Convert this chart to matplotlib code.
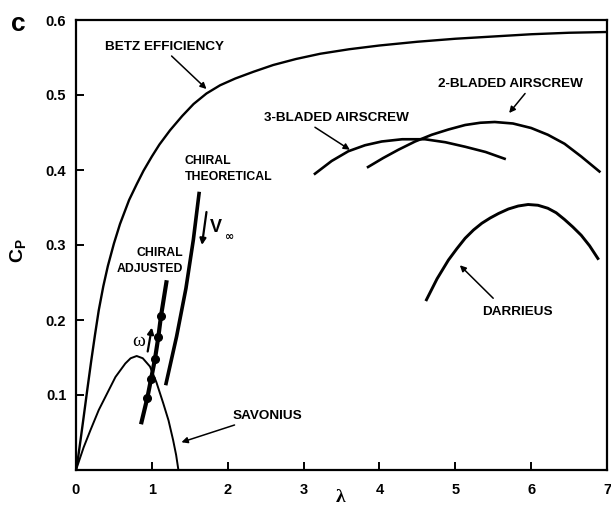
import matplotlib
matplotlib.use('Agg')
import matplotlib.pyplot as plt

plt.rcParams['font.family'] = ['Liberation Sans', 'DejaVu Sans']
plt.rcParams['mathtext.fontset'] = 'custom'
plt.rcParams['mathtext.rm'] = 'Liberation Sans'
plt.rcParams['mathtext.bf'] = 'Liberation Sans:bold'
plt.rcParams['mathtext.it'] = 'Liberation Sans:italic'

# ---------------- data ----------------
betz_lam = [0, 0.02, 0.06, 0.1, 0.15, 0.2, 0.25, 0.3, 0.36, 0.42, 0.5, 0.58, 0.7, 0.8,
            0.89, 1.0, 1.1, 1.24, 1.4, 1.55, 1.72, 1.9, 2.1, 2.34, 2.6, 2.9, 3.22, 3.6,
            4.0, 4.5, 5.0, 5.5, 6.0, 6.5, 7.0]
betz_cp = [0, 0.011, 0.040, 0.070, 0.108, 0.145, 0.180, 0.213, 0.245, 0.272, 0.302, 0.328,
           0.360, 0.381, 0.399, 0.418, 0.434, 0.453, 0.472, 0.488, 0.502, 0.513, 0.522,
           0.531, 0.540, 0.548, 0.555, 0.561, 0.566, 0.571, 0.575, 0.578, 0.581, 0.583, 0.584]

savonius_lam = [0, 0.05, 0.1, 0.19, 0.3, 0.41, 0.52, 0.65, 0.72, 0.8, 0.88, 0.975,
                1.06, 1.15, 1.22, 1.28, 1.32, 1.35]
savonius_cp = [0, 0.015, 0.030, 0.053, 0.080, 0.102, 0.124, 0.142, 0.149, 0.152, 0.149,
               0.138, 0.117, 0.089, 0.066, 0.040, 0.020, 0]

chiral_adj_lam = [0.857, 0.94, 0.989, 1.041, 1.085, 1.12, 1.196]
chiral_adj_cp = [0.061, 0.096, 0.121, 0.148, 0.177, 0.205, 0.253]
chiral_adj_dots = [1, 2, 3, 4, 5]

chiral_th_lam = [1.182, 1.326, 1.449, 1.547, 1.625]
chiral_th_cp = [0.113, 0.178, 0.242, 0.307, 0.371]

blade3_lam = [3.15, 3.37, 3.59, 3.81, 4.03, 4.3, 4.6, 4.87, 5.13, 5.4, 5.65]
blade3_cp = [0.395, 0.412, 0.425, 0.433, 0.438, 0.441, 0.441, 0.437, 0.431, 0.424, 0.415]

blade2_lam = [3.85, 4.05, 4.25, 4.47, 4.69, 4.91, 5.13, 5.33, 5.52, 5.76, 6.0, 6.22,
              6.44, 6.66, 6.9]
blade2_cp = [0.404, 0.416, 0.427, 0.438, 0.447, 0.454, 0.460, 0.463, 0.464, 0.462, 0.456,
             0.447, 0.435, 0.418, 0.398]

darrieus_lam = [4.62, 4.76, 4.91, 5.02, 5.13, 5.24, 5.35, 5.46, 5.57, 5.7, 5.83, 5.96,
                6.09, 6.22, 6.33, 6.44, 6.55, 6.66, 6.77, 6.88]
darrieus_cp = [0.227, 0.255, 0.280, 0.295, 0.309, 0.320, 0.329, 0.336, 0.342, 0.348,
               0.352, 0.354, 0.353, 0.349, 0.343, 0.334, 0.324, 0.313, 0.299, 0.282]

x_ticks = [0, 1, 2, 3, 4, 5, 6, 7]
x_labels = ['0', '1', '2', '3', '4', '5', '6', '7']
y_ticks = [0.1, 0.2, 0.3, 0.4, 0.5, 0.6]
y_labels = ['0.1', '0.2', '0.3', '0.4', '0.5', '0.6']

# ---------------- figure ----------------
W, H = 611, 508
fig = plt.figure(figsize=(W / 100, H / 100), dpi=100)
ax = fig.add_axes([76 / W, 1 - 470 / H, 531 / W, 450 / H])
ax.set_xlim(0, 7)
ax.set_ylim(0, 0.6)

for s in ax.spines.values():
    s.set_linewidth(1.6)

ax.set_xticks(x_ticks, x_labels, fontweight='bold', fontsize=10.5)
ax.set_yticks(y_ticks, y_labels, fontweight='bold', fontsize=10.5)
ax.tick_params(axis='both', direction='in', length=6, width=1.4)
ax.tick_params(axis='x', pad=9)
ax.tick_params(axis='y', pad=7)

k = 'black'
ax.plot(betz_lam, betz_cp, color=k, lw=1.7, solid_joinstyle='round')
ax.plot(savonius_lam, savonius_cp, color=k, lw=1.4, solid_joinstyle='round')
ax.plot(chiral_th_lam, chiral_th_cp, color=k, lw=2.6, solid_capstyle='butt',
        solid_joinstyle='round')
ax.plot(chiral_adj_lam, chiral_adj_cp, color=k, lw=3.0, solid_capstyle='butt',
        marker='o', markersize=5.5, markevery=chiral_adj_dots)
ax.plot(blade3_lam, blade3_cp, color=k, lw=1.9, solid_joinstyle='round')
ax.plot(blade2_lam, blade2_cp, color=k, lw=1.9, solid_joinstyle='round')
ax.plot(darrieus_lam, darrieus_cp, color=k, lw=2.1, solid_joinstyle='round')

arrow = dict(arrowstyle='-|>', color=k, lw=1.1, mutation_scale=9, shrinkA=0, shrinkB=0)
arrow_thick = dict(arrowstyle='-|>', color=k, lw=1.6, mutation_scale=9, shrinkA=0, shrinkB=0)

lab = dict(fontsize=9.7, fontweight='bold', ha='center', va='center')
lab_s = dict(fontsize=8.8, fontweight='bold', va='center')

ax.text(1.17, 0.564, 'BETZ EFFICIENCY', **lab)
ax.annotate('', xy=(1.72, 0.508), xytext=(1.26, 0.552), arrowprops=arrow)

ax.text(3.43, 0.469, '3-BLADED AIRSCREW', **lab)
ax.annotate('', xy=(3.61, 0.427), xytext=(3.15, 0.457), arrowprops=arrow)

ax.text(5.73, 0.515, '2-BLADED AIRSCREW', **lab)
ax.annotate('', xy=(5.71, 0.476), xytext=(5.92, 0.502), arrowprops=arrow)

ax.text(5.82, 0.211, 'DARRIEUS', **lab)
ax.annotate('', xy=(5.06, 0.273), xytext=(5.50, 0.229), arrowprops=arrow)

ax.text(2.52, 0.072, 'SAVONIUS', **lab)
ax.annotate('', xy=(1.39, 0.037), xytext=(2.09, 0.060), arrowprops=arrow)

ax.text(1.43, 0.412, 'CHIRAL', ha='left', **lab_s)
ax.text(1.43, 0.391, 'THEORETICAL', ha='left', **lab_s)
ax.text(1.41, 0.289, 'CHIRAL', ha='right', **lab_s)
ax.text(1.41, 0.268, 'ADJUSTED', ha='right', **lab_s)

# V-infinity arrow and label
ax.annotate('', xy=(1.66, 0.300), xytext=(1.72, 0.344), arrowprops=arrow_thick)
ax.text(1.76, 0.323, 'V', fontsize=13, fontweight='bold', ha='left', va='center')
ax.text(2.02, 0.311, '\u221e', fontsize=8, fontweight='bold', ha='center', va='center',
        family=['DejaVu Sans'])

# omega arrow and label
ax.annotate('', xy=(1.0, 0.190), xytext=(0.945, 0.158), arrowprops=arrow_thick)
ax.text(0.83, 0.171, '\u03c9', fontsize=14, ha='center', va='center',
        family=['Liberation Serif', 'DejaVu Serif'])

# axis labels and panel letter
fig.text(341 / W, 1 - 498 / H, '\u03bb', fontsize=14, fontweight='bold', ha='center',
         va='center', family=['Liberation Serif', 'DejaVu Serif'])
fig.text(18 / W, 1 - 251 / H, r'$\mathbf{C}_\mathbf{P}$', fontsize=14, rotation=90,
         ha='center', va='center')
fig.text(18 / W, 1 - 31 / H, 'c', fontsize=19, fontweight='bold', ha='center',
         va='baseline')

fig.savefig('out.png', dpi=100)
